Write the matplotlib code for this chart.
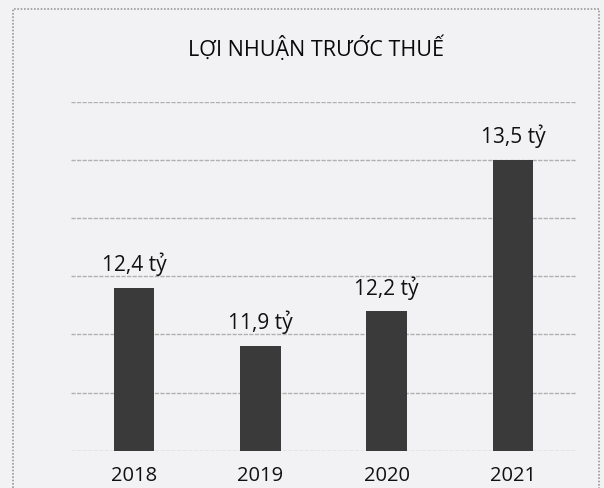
import matplotlib
matplotlib.use('Agg')
import matplotlib.pyplot as plt
from matplotlib.patches import Rectangle

plt.rcParams['font.family'] = ['Open Sans', 'DejaVu Sans']

# du lieu
years = ['2018', '2019', '2020', '2021']
profits = [12.4, 11.9, 12.2, 13.5]
profit_labels = ['12,4 tỷ', '11,9 tỷ', '12,2 tỷ', '13,5 tỷ']
grid_ticks = [11.0, 11.5, 12.0, 12.5, 13.0, 13.5, 14.0]

fig = plt.figure(figsize=(6.04, 4.88), dpi=100)
fig.patch.set_facecolor('#f2f2f4')

# khung vien cua bieu do (scan)
frame = Rectangle((13 / 604, -0.05), 586 / 604, 1.05 - 9 / 488, transform=fig.transFigure,
                  fill=False, edgecolor='#9a9a9a', linewidth=1.2, linestyle=(0, (1, 1)))
fig.patches.append(frame)

ax = fig.add_axes([71 / 604, (488 - 450.7) / 488, 505 / 604, (450.7 - 102) / 488])
ax.set_facecolor('none')

x = range(len(years))
ax.bar(x, profits, width=0.32, color='#3a3a3a', zorder=3)

ax.set_ylim(11, 14)
ax.set_xlim(-0.5, 3.5)
ax.set_yticks(grid_ticks)
ax.yaxis.grid(True, color='#b0b0b0', linewidth=1.0, linestyle=(0, (3, 1)))
ax.tick_params(axis='y', left=False, labelleft=False)
ax.set_xticks(list(x))
ax.set_xticklabels(years, fontsize=14.5, color='#111111')
ax.tick_params(axis='x', length=0, pad=11)

for s in ax.spines.values():
    s.set_visible(False)

for i, (v, lab) in enumerate(zip(profits, profit_labels)):
    ax.annotate(lab, (i, v), xytext=(0, 12), textcoords='offset points',
                ha='center', va='baseline', fontsize=15, color='#111111')

fig.text(316 / 604, 1 - 48 / 488, 'LỢI NHUẬN TRƯỚC THUẾ', ha='center', va='center',
         fontsize=15.5, color='#0a0a0a')

fig.savefig('out.png', dpi=100, facecolor=fig.get_facecolor())
